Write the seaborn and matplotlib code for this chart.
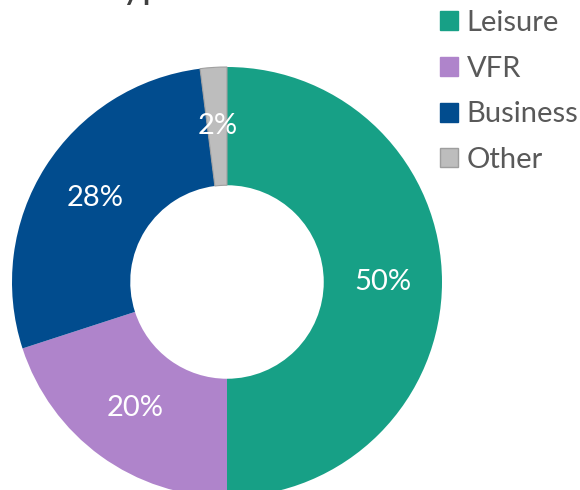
import matplotlib
matplotlib.use("Agg")
import matplotlib.pyplot as plt
import seaborn as sns
import numpy as np
from matplotlib.patches import Patch

categories = ["Leisure", "VFR", "Business", "Other"]
shares = [50, 20, 28, 2]
colors = ["#17A086", "#AF84CB", "#014C8E", "#BDBDBD"]
title_text = "Visit Type"

sns.set_theme(style="white")
plt.rcParams['font.family'] = ['Lato', 'DejaVu Sans']

fig = plt.figure(figsize=(5.8, 4.9), dpi=100)
ax = fig.add_axes([12/580, (208-215)/490, 430/580, 430/490])
wedges, texts = ax.pie(shares, colors=colors, startangle=90, counterclock=False,
                       radius=1.0,
                       wedgeprops=dict(width=0.55, linewidth=0))
wedges[3].set_edgecolor("#A0A0A0")
wedges[3].set_linewidth(0.8)
for w, s in zip(wedges, shares):
    mid = np.deg2rad((w.theta1 + w.theta2) / 2)
    r = 0.725
    ax.text(r*np.cos(mid), r*np.sin(mid), f"{s}%", ha="center", va="center",
            color="white", fontsize=21)
ax.set_xlim(-1, 1)
ax.set_ylim(-1, 1)
ax.set_aspect("auto")
ax.axis("off")

handles = [Patch(facecolor=c, edgecolor=c) for c in colors]
handles[3] = Patch(facecolor=colors[3], edgecolor="#9E9E9E")
leg = fig.legend(handles, categories, loc="upper left", bbox_to_anchor=(428/580, 1.0 + 2/490),
                 frameon=False, fontsize=21, labelspacing=0.68, handlelength=0.62,
                 handleheight=0.62, handletextpad=0.3, borderaxespad=0)
for t in leg.get_texts():
    t.set_color("#595959")

fig.text(13/580, 1.0 + 2/490, title_text, ha="left", va="baseline", fontsize=28,
         color="#404040")

fig.savefig("out.png", dpi=100)
